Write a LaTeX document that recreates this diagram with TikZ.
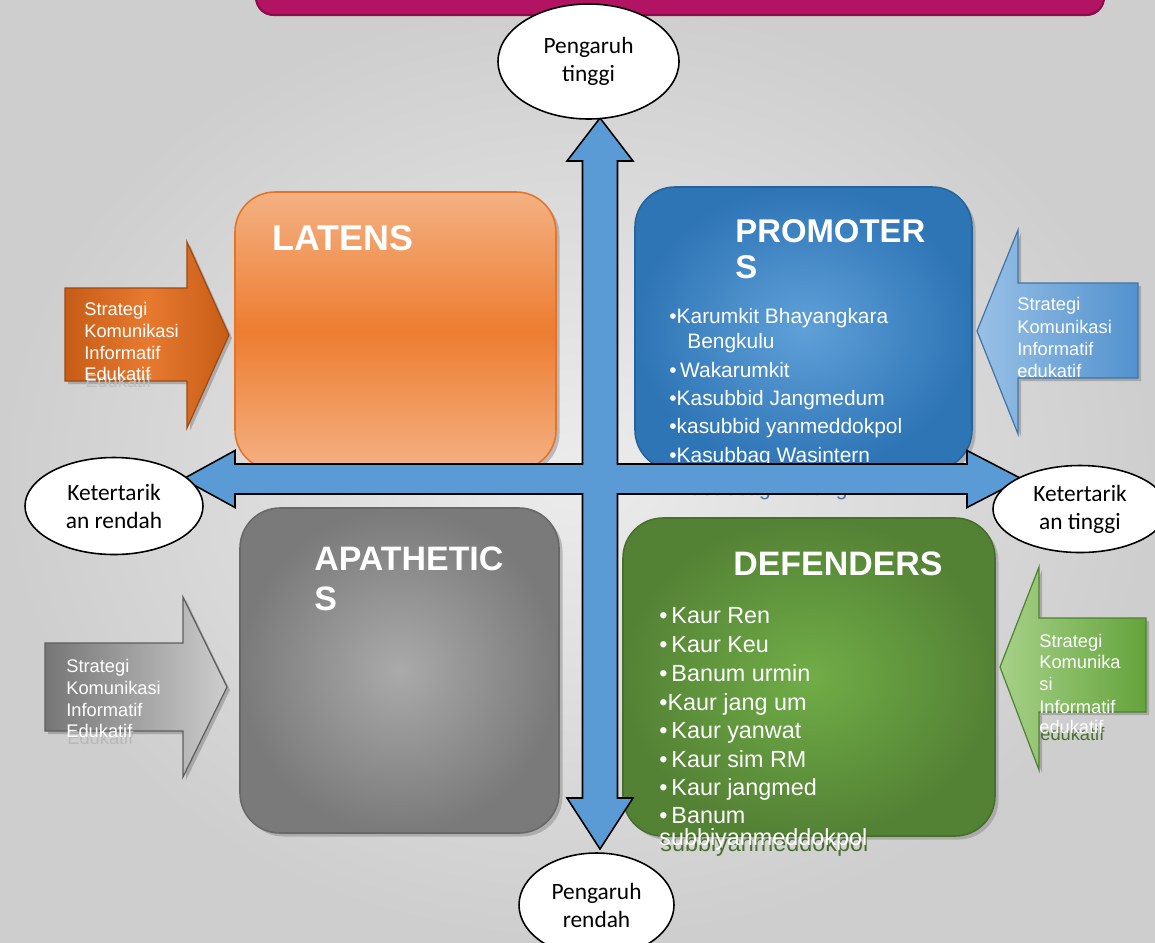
\documentclass[tikz,border=0pt]{standalone}
\usepackage{fontspec}
\setmainfont{Liberation Sans}
\newfontfamily\ellfont{Carlito}
\usepackage{tikz}
\usetikzlibrary{shapes.geometric, shadows, calc, positioning}
\usepackage{xcolor}

\definecolor{bglight}{RGB}{236,236,236}
\definecolor{bgdark}{RGB}{206,206,206}
\definecolor{banner}{RGB}{178,19,99}
\definecolor{bannerdark}{RGB}{138,12,74}
\definecolor{crossblue}{RGB}{91,155,213}
\definecolor{latlight}{RGB}{244,177,131}
\definecolor{latmid}{RGB}{237,125,49}
\definecolor{latline}{RGB}{230,115,38}
\definecolor{promin}{RGB}{95,160,216}
\definecolor{promout}{RGB}{46,117,182}
\definecolor{apain}{RGB}{170,170,170}
\definecolor{apaout}{RGB}{122,122,122}
\definecolor{defin}{RGB}{112,173,71}
\definecolor{defout}{RGB}{84,130,53}
\definecolor{defshade}{RGB}{72,112,44}
\definecolor{hiddenblue}{RGB}{75,115,165}
\definecolor{orgdark}{RGB}{198,92,22}
\definecolor{orglight}{RGB}{232,122,48}
\definecolor{sblight}{RGB}{152,192,230}
\definecolor{sbdark}{RGB}{82,146,206}
\definecolor{sgdark}{RGB}{118,118,118}
\definecolor{sglight}{RGB}{205,205,205}
\definecolor{sgrlight}{RGB}{166,209,136}
\definecolor{sgrdark}{RGB}{100,163,60}

\begin{document}
\begin{tikzpicture}[
        >=stealth,
        quad/.style={rectangle, rounded corners=0.8cm, inner sep=0pt, line width=0.9pt, drop shadow={opacity=0.45, shadow xshift=0.07cm, shadow yshift=-0.07cm}},
        heading/.style={anchor=base west, inner sep=0pt, text=white, font=\bfseries\fontsize{19.3}{22}\selectfont},
        entry/.style={anchor=base west, inner sep=0pt, text=white},
        sidearrow/.style={line width=0.7pt, line join=miter, drop shadow={opacity=0.5, shadow xshift=0.06cm, shadow yshift=-0.06cm}},
        sidetext/.style={anchor=base west, inner sep=0pt, text=white, font=\fontsize{10.4}{12.5}\selectfont},
        bubble/.style={ellipse, draw=black, fill=white, line width=0.9pt, inner sep=0pt, align=center, font=\ellfont\fontsize{13.3}{15.9}\selectfont},
        crossarrow/.style={draw=black, fill=crossblue, line width=0.9pt, line join=miter}
    ]

        % ================= LATAR =================
        \useasboundingbox (0,0) rectangle (23.1,-18.84);
        \shade[inner color=bglight, outer color=bgdark] (0,0) rectangle (23.1,-18.84);
        \node[fill=banner, draw=bannerdark, line width=1.2pt, rounded corners=0.35cm, minimum width=16.96cm, minimum height=1.2cm] (banner) at (13.6,0.3) {};

        % ================= PANAH SAMPING =================
        \path[sidearrow, draw=orgdark!80!black, left color=orgdark, right color=orgdark, middle color=orglight]
            (1.30,-5.76) -- (3.74,-5.76) -- (3.74,-4.84) -- (4.58,-6.70) -- (3.74,-8.56) -- (3.74,-7.62) -- (1.30,-7.62) -- cycle;
        \node[sidetext, text=black!25] (orgsh) at (1.70,-7.74) {Edukatif};
        \foreach \y/\t [count=\i] in {-6.30/Strategi, -6.74/Komunikasi, -7.18/Informatif, -7.60/Edukatif}
            \node[sidetext] (org\i) at (1.68,\y) {\t};

        \path[sidearrow, draw=sbdark!80!black, left color=sblight, right color=sbdark]
            (22.76,-5.66) -- (20.36,-5.66) -- (20.36,-4.60) -- (19.54,-6.62) -- (20.36,-8.68) -- (20.36,-7.56) -- (22.76,-7.56) -- cycle;
        \foreach \y/\t [count=\i] in {-6.20/Strategi, -6.66/Komunikasi, -7.10/Informatif, -7.54/edukatif}
            \node[sidetext] (sb\i) at (20.34,\y) {\t};

        \path[sidearrow, draw=sgdark!80!black, left color=sgdark, right color=sglight]
            (0.90,-12.86) -- (3.66,-12.86) -- (3.66,-11.94) -- (4.54,-13.74) -- (3.66,-15.54) -- (3.66,-14.62) -- (0.90,-14.62) -- cycle;
        \node[sidetext, text=black!28] (sgsh) at (1.34,-14.88) {Edukatif};
        \foreach \y/\t [count=\i] in {-13.44/Strategi, -13.88/Komunikasi, -14.32/Informatif, -14.74/Edukatif}
            \node[sidetext] (sg\i) at (1.32,\y) {\t};

        \path[sidearrow, draw=sgrdark!80!black, left color=sgrlight, right color=sgrdark]
            (22.92,-12.36) -- (20.78,-12.36) -- (20.78,-11.34) -- (20.00,-13.34) -- (20.78,-15.40) -- (20.78,-14.24) -- (22.92,-14.24) -- cycle;
        \node[sidetext, text=defshade] (sgrsh) at (20.80,-14.80) {edukatif};
        \foreach \y/\t [count=\i] in {-12.94/Strategi, -13.36/Komunika, -13.80/si, -14.26/Informatif, -14.66/edukatif}
            \node[sidetext] (sgr\i) at (20.78,\y) {\t};

        % ================= KUADRAN =================
        \node[quad, draw=latline, top color=latlight, bottom color=latlight, middle color=latmid, minimum width=6.42cm, minimum height=5.56cm] (latens) at (7.91,-6.62) {};
        \node[heading, font=\bfseries\fontsize{20.4}{24}\selectfont] (latensT) at (5.44,-5.0) {LATENS};

        \node[quad, draw=promout!85!black, inner color=promin, outer color=promout, minimum width=6.74cm, minimum height=5.66cm] (promoters) at (16.07,-6.57) {};
        \node[heading, font=\bfseries\fontsize{18.7}{22}\selectfont] (promotersT) at (14.70,-4.84) {PROMOTER};
        \node[heading, font=\bfseries\fontsize{18.7}{22}\selectfont] (promotersS) at (14.70,-5.56) {S};
        \foreach \y/\t [count=\i] in {-6.46/{•Karumkit Bhayangkara}, -7.54/{•\,Wakarumkit}, -8.10/{•Kasubbid Jangmedum}, -8.66/{•kasubbid yanmeddokpol}, -9.24/{•Kasubbag Wasintern}}
            \node[entry, font=\fontsize{11.9}{14}\selectfont] (prom\i) at (13.38,\y) {\t};
        \node[entry, font=\fontsize{11.9}{14}\selectfont] (promB) at (13.74,-6.96) {Bengkulu};
        \node[entry, text=hiddenblue, font=\fontsize{11.9}{14}\selectfont] (promH) at (13.38,-9.90) {•Kasubbag Binfung};

        \node[quad, draw=apaout!85!black, inner color=apain, outer color=apaout, minimum width=6.38cm, minimum height=6.5cm] (apathetics) at (7.99,-13.41) {};
        \node[heading] (apatheticsT) at (6.28,-11.40) {APATHETIC};
        \node[heading] (apatheticsS) at (6.28,-12.20) {S};

        \node[quad, draw=defout!85!black, inner color=defin, outer color=defout, minimum width=7.44cm, minimum height=6.36cm] (defenders) at (16.18,-13.54) {};
        \node[heading] (defendersT) at (14.66,-11.50) {DEFENDERS};
        \foreach \y/\t [count=\i] in {-12.46/{•\,Kaur Ren}, -13.04/{•\,Kaur Keu}, -13.62/{•\,Banum urmin}, -14.20/{•Kaur jang um}, -14.76/{•\,Kaur yanwat}, -15.34/{•\,Kaur sim RM}, -15.90/{•\,Kaur jangmed}, -16.46/{•\,Banum}}
            \node[entry, font=\fontsize{13.3}{16}\selectfont] (def\i) at (13.18,\y) {\t};
        \node[entry, text=defshade, font=\fontsize{13.3}{16}\selectfont] (defsh) at (13.20,-17.02) {subbiyanmeddokpol};
        \node[entry, font=\fontsize{13.3}{16}\selectfont] (defL) at (13.18,-16.90) {subbiyanmeddokpol};

        % ================= PANAH SILANG =================
        \begin{scope}[shift={(12,-9.58)}]
            \path[crossarrow] (0,7.22) -- (0.66,6.36) -- (0.35,6.36) -- (0.35,0.30) -- (7.34,0.30) -- (7.34,0.57) -- (8.44,0)
                -- (7.34,-0.57) -- (7.34,-0.30) -- (0.35,-0.30) -- (0.35,-6.38) -- (0.66,-6.38) -- (0,-7.40)
                -- (-0.66,-6.38) -- (-0.35,-6.38) -- (-0.35,-0.30) -- (-7.30,-0.30) -- (-7.30,-0.57) -- (-8.34,0)
                -- (-7.30,0.57) -- (-7.30,0.30) -- (-0.35,0.30) -- (-0.35,6.36) -- (-0.66,6.36) -- cycle;
        \end{scope}

        % ================= ELIPS =================
        \node[bubble, minimum width=3.62cm, minimum height=2.30cm] (tinggi) at (11.77,-1.23) {Pengaruh\\tinggi};
        \node[bubble, minimum width=3.10cm, minimum height=2.08cm] (rendah) at (11.93,-18.10) {Pengaruh\\rendah};
        \node[bubble, minimum width=3.56cm, minimum height=1.94cm] (ketrendah) at (2.28,-10.12) {Ketertarik\\an rendah};
        \node[bubble, minimum width=3.48cm, minimum height=1.74cm] (kettinggi) at (21.60,-10.18) {Ketertarik\\an tinggi};

    \end{tikzpicture}
\end{document}
